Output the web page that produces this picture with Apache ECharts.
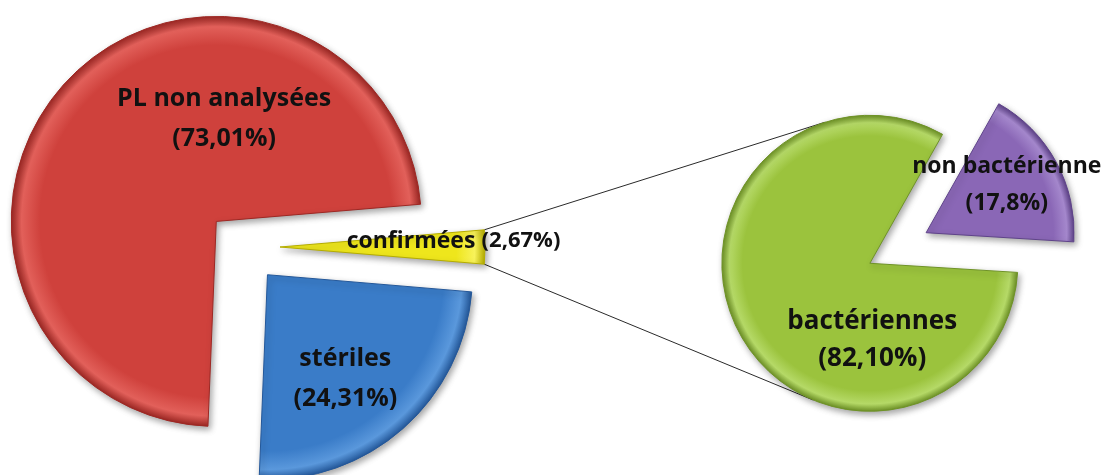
<!DOCTYPE html>
<html>
<head>
<meta charset="utf-8">
<script src="https://cdn.jsdelivr.net/npm/echarts@6/dist/echarts.min.js"></script>
<style>
  html, body { margin: 0; padding: 0; background: #ffffff; }
  #chart { width: 1109px; height: 475px; }
</style>
</head>
<body>
<div id="chart"></div>
<script>
// Main pie: categories and their shares (French decimal comma, as printed)
const mainNames = ['confirmées', 'stériles', 'PL non analysées'];
const mainShares = ['2,67', '24,31', '73,01'];
// Secondary pie: breakdown of the "confirmées" slice
const subNames = ['non bactérienne', 'bactériennes'];
const subShares = ['17,8', '82,10'];

// base / rim-highlight / edge colours per slice
const mainColors = [['#eee61c', '#f8f25a', '#b5ad00'], ['#3a7cc8', '#5a98dc', '#24589a'], ['#cf413c', '#e2605a', '#9e2824']];
const subColors = [['#8a67b6', '#a487cc', '#5f438a'], ['#9bc33d', '#b5d967', '#6f9327']];

const toNum = s => parseFloat(s.replace(',', '.'));
const mainValues = mainShares.map(toNum);
const subValues = subShares.map(toNum);

// Geometry of the two pies
const C1 = [243, 247], R1 = 205, OFF1 = 37;
const C2 = [898, 248], R2 = 148, OFF2 = 32;
const mainTotal = mainValues.reduce((a, b) => a + b, 0);
const subTotal = subValues.reduce((a, b) => a + b, 0);
// the split slice is centred on the horizontal axis, pointing at the secondary pie
const halfSplit = 180 * mainValues[0] / mainTotal;
const mainStart = halfSplit;
const subStart = 60.6;

// label nudges (dx, dy) relative to ECharts' inside position
const mainNudge = [[68, -6], [8, 25], [84, -30]];
const subNudge = [[13, -11], [70, 40]];

const chart = echarts.init(document.getElementById('chart'), null, { renderer: 'canvas' });

const textColor = '#111111';
const font = '"Open Sans", Lato, "DejaVu Sans", sans-serif';

// exploded corner of each slice (mid-angle direction, clockwise layout)
function corners(values, total, start, center, off) {
  let s = start;
  return values.map(v => {
    const span = 360 * v / total;
    const mid = (s - span / 2) * Math.PI / 180;
    s -= span;
    return [center[0] + off * Math.cos(mid), center[1] - off * Math.sin(mid)];
  });
}
const mainCorners = corners(mainValues, mainTotal, mainStart, C1, OFF1);
const subCorners = corners(subValues, subTotal, subStart, C2, OFF2);

// rim shading; the sector is drawn at the pie centre and then translated,
// so the gradient is centred on the un-exploded pie centre
function bevel(c, r, cols) {
  return {
    type: 'radial', global: true, x: c[0], y: c[1], r: r,
    colorStops: [
      { offset: 0, color: cols[0] },
      { offset: 0.86, color: cols[0] },
      { offset: 0.95, color: cols[1] },
      { offset: 1, color: cols[2] }
    ]
  };
}

function slice(name, value, fill, border, labelCfg) {
  const st = {
    color: fill,
    borderColor: border,
    borderWidth: 1,
    shadowBlur: 6,
    shadowColor: 'rgba(0,0,0,0.35)',
    shadowOffsetX: 2,
    shadowOffsetY: 3
  };
  return {
    name: name,
    value: value,
    selected: true,
    itemStyle: st,
    select: { itemStyle: st, label: labelCfg },
    label: labelCfg
  };
}

const mainData = mainNames.map((n, i) => {
  let label;
  if (i === 0) {
    label = {
      formatter: '{n|' + n + '}  {p|(' + mainShares[i] + '%)}',
      rich: {
        n: { fontSize: 23, fontWeight: 'bold', color: textColor, fontFamily: font },
        p: { fontSize: 22, fontWeight: 'bold', color: textColor, fontFamily: font }
      }
    };
  } else {
    label = {
      formatter: n + '\n(' + mainShares[i] + '%)',
      fontSize: 25,
      lineHeight: 40,
      fontWeight: 'bold'
    };
  }
  return slice(n, mainValues[i], bevel(C1, R1, mainColors[i]), mainColors[i][2], label);
});

const subData = subNames.map((n, i) => {
  const label = {
    formatter: n + '\n(' + subShares[i] + '%)',
    fontSize: i === 0 ? 23 : 26,
    lineHeight: 37,
    fontWeight: 'bold'
  };
  return slice(n, subValues[i], bevel(C2, R2, subColors[i]), subColors[i][2], label);
});

// connector lines from the split slice's outer corners to tangents on the secondary pie
function connectors() {
  const a = halfSplit * Math.PI / 180;
  const tip = mainCorners[0];
  const top = [tip[0] + R1 * Math.cos(a), tip[1] - R1 * Math.sin(a)];
  const bot = [tip[0] + R1 * Math.cos(a), tip[1] + R1 * Math.sin(a)];
  const gc = subCorners[1];
  function tangent(p, upper) {
    const dx = p[0] - gc[0], dy = -(p[1] - gc[1]);
    const d = Math.sqrt(dx * dx + dy * dy);
    const base = Math.atan2(dy, dx);
    const t = Math.acos(R2 / d);
    const ang = upper ? base - t : base + t;
    return [gc[0] + R2 * Math.cos(ang), gc[1] - R2 * Math.sin(ang)];
  }
  const t1 = tangent(top, true);
  const t2 = tangent(bot, false);
  const ls = { stroke: '#2a2a2a', lineWidth: 1 };
  return [
    { type: 'line', z: 1, shape: { x1: top[0], y1: top[1], x2: t1[0], y2: t1[1] }, style: ls, silent: true },
    { type: 'line', z: 1, shape: { x1: bot[0], y1: bot[1], x2: t2[0], y2: t2[1] }, style: ls, silent: true }
  ];
}

const commonLabel = {
  show: true,
  position: 'inside',
  color: textColor,
  fontFamily: font,
  fontWeight: 'bold'
};

chart.setOption({
  animation: false,
  backgroundColor: '#ffffff',
  graphic: connectors(),
  series: [
    {
      type: 'pie',
      z: 3,
      center: C1,
      radius: [0, R1],
      startAngle: mainStart,
      clockwise: true,
      selectedMode: 'multiple',
      selectedOffset: OFF1,
      avoidLabelOverlap: false,
      emphasis: { disabled: true },
      label: commonLabel,
      labelLine: { show: false },
      labelLayout: p => ({ dx: mainNudge[p.dataIndex][0], dy: mainNudge[p.dataIndex][1] }),
      data: mainData
    },
    {
      type: 'pie',
      z: 3,
      center: C2,
      radius: [0, R2],
      startAngle: subStart,
      clockwise: true,
      selectedMode: 'multiple',
      selectedOffset: OFF2,
      avoidLabelOverlap: false,
      emphasis: { disabled: true },
      label: commonLabel,
      labelLine: { show: false },
      labelLayout: p => ({ dx: subNudge[p.dataIndex][0], dy: subNudge[p.dataIndex][1] }),
      data: subData
    }
  ]
});
</script>
</body>
</html>
